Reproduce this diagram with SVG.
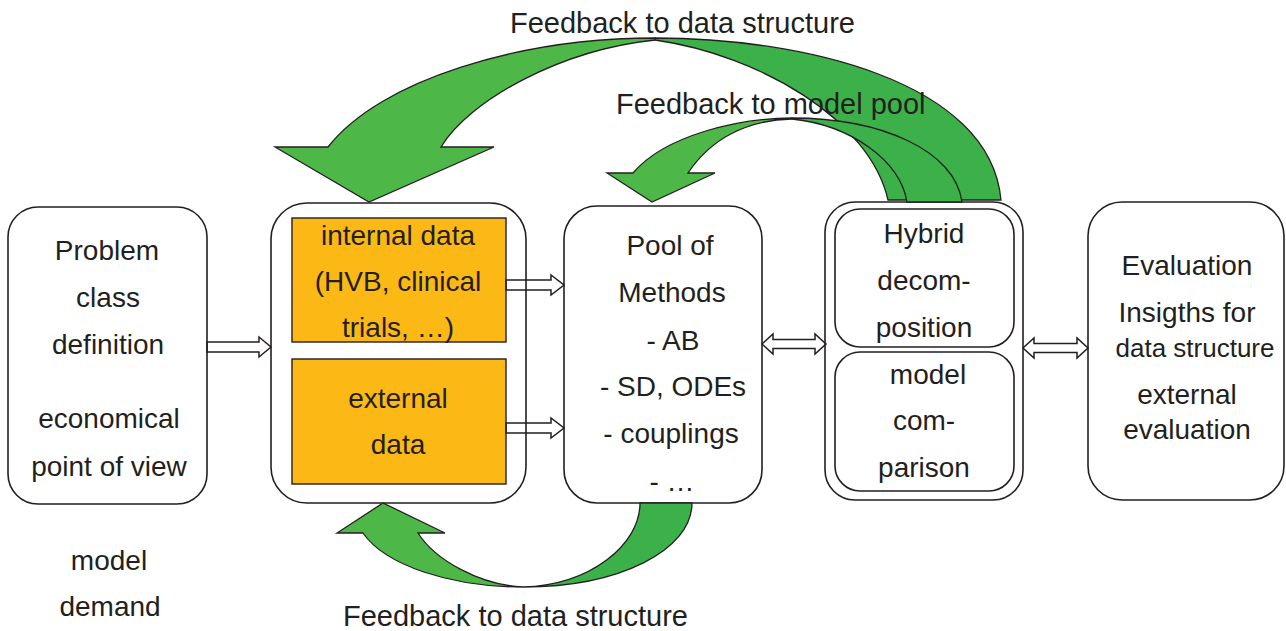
<svg xmlns="http://www.w3.org/2000/svg" width="1286" height="631" viewBox="0 0 1286 631">
  <style>
    .box { fill: #ffffff; stroke: #231f20; stroke-width: 1.6; }
    .data { fill: #fcb815; stroke: #231f20; stroke-width: 1.4; }
    .lbl { font-family: "Liberation Sans", Arial, sans-serif; font-size: 28px; fill: #231f20; text-anchor: middle; }
    .sm { font-size: 26px; }
    .fb { font-family: "Liberation Sans", Arial, sans-serif; font-size: 29px; fill: #231f20; }
    .blk { fill: none; stroke: #231f20; stroke-width: 1.5; stroke-linejoin: miter; }
    .front { fill: #4db848; stroke: #231f20; stroke-width: 1.3; stroke-linejoin: miter; }
    .back { fill: #3cb14a; stroke: #231f20; stroke-width: 1.3; stroke-linejoin: miter; }
  </style>

  <!-- Problem class definition -->
  <g id="problem">
    <rect class="box" x="8" y="207" width="199" height="297" rx="30" ry="30"/>
    <text class="lbl" x="107" y="260">Problem</text>
    <text class="lbl" x="108" y="307">class</text>
    <text class="lbl" x="108" y="354">definition</text>
    <text class="lbl" x="109" y="428">economical</text>
    <text class="lbl" x="109" y="476">point of view</text>
    <text class="lbl" x="109" y="570">model</text>
    <text class="lbl" x="110" y="616">demand</text>
  </g>

  <!-- Data sources -->
  <g id="data">
    <rect class="box" x="271" y="203" width="255" height="300" rx="36" ry="36"/>
    <rect class="data" x="292" y="218" width="214" height="124"/>
    <rect class="data" x="292" y="359" width="214" height="125"/>
    <text class="lbl" x="398" y="245">internal data</text>
    <text class="lbl" x="398" y="291">(HVB, clinical</text>
    <text class="lbl" x="398" y="337">trials, …)</text>
    <text class="lbl" x="398" y="408">external</text>
    <text class="lbl" x="398" y="454">data</text>
  </g>

  <!-- Pool of methods -->
  <g id="pool">
    <rect class="box" x="564" y="206" width="198" height="297" rx="33" ry="33"/>
    <text class="lbl" x="670" y="255">Pool of</text>
    <text class="lbl" x="672" y="302">Methods</text>
    <text class="lbl" x="673" y="350">- AB</text>
    <text class="lbl" x="673" y="396">- SD, ODEs</text>
    <text class="lbl" x="671" y="443">- couplings</text>
    <text class="lbl" x="672" y="491">- …</text>
  </g>

  <!-- Hybrid decomposition / model comparison -->
  <g id="hybrid">
    <rect class="box" x="825" y="202" width="198" height="298" rx="30" ry="30"/>
    <rect class="box" x="835" y="209" width="179" height="138" rx="25" ry="25"/>
    <rect class="box" x="835" y="352" width="179" height="139" rx="25" ry="25"/>
    <text class="lbl" x="924" y="243">Hybrid</text>
    <text class="lbl" x="924" y="290">decom-</text>
    <text class="lbl" x="924" y="337">position</text>
    <text class="lbl" x="928" y="384">model</text>
    <text class="lbl" x="924" y="430">com-</text>
    <text class="lbl" x="924" y="477">parison</text>
  </g>

  <!-- Evaluation -->
  <g id="evaluation">
    <rect class="box" x="1088" y="202" width="196" height="298" rx="34" ry="34"/>
    <text class="lbl" x="1187" y="275">Evaluation</text>
    <text class="lbl" x="1187" y="322">Insigths for</text>
    <text class="lbl sm" x="1195" y="357">data structure</text>
    <text class="lbl" x="1187" y="404">external</text>
    <text class="lbl" x="1187" y="439">evaluation</text>
  </g>

  <g id="connectors">
    <!-- block arrows between stages -->
    <path class="blk" d="M207,342 L259,342 L259,337 L271,347 L259,357 L259,352 L207,352 Z"/>
    <path class="blk" d="M506,280 L551,280 L551,275 L564,285 L551,295 L551,290 L506,290 Z"/>
    <path class="blk" d="M506,423 L551,423 L551,418 L564,428 L551,438 L551,433 L506,433 Z"/>
    <path class="blk" d="M762,344 L773,334 L773,339.5 L815,339.5 L815,334 L826,344 L815,354 L815,348.5 L773,348.5 L773,354 Z"/>
    <path class="blk" d="M1023,348 L1034,338 L1034,343.5 L1077,343.5 L1077,338 L1088,348 L1077,358 L1077,352.5 L1034,352.5 L1034,358 Z"/>

    <!-- feedback to data structure (top) -->
    <path class="back" d="M655,38 C800,38 990,80 1001,200 L888,200 C870,120 760,55 655,40 Z"/>
    <path class="front" d="M655,38 C520,38 380,80 328,147 L275,147 L369,202 L494,147 L441,147 C470,100 560,50 655,40 Z"/>

    <!-- feedback to model pool -->
    <path class="back" d="M792,118 C880,118 955,150 962,202 L907,202 C900,160 850,125 792,119 Z"/>
    <path class="front" d="M792,118 C740,118 665,135 633,173 L607,173 L652,202 L715,173 L688,173 C710,140 745,120 792,119 Z"/>

    <!-- feedback to data structure (bottom) -->
    <path class="back" d="M692,503 C692,550 620,587 523,587 C590,585 640,545 640,503 Z"/>
    <path class="front" d="M523,587 C450,587 385,565 363,533 L337,533 L383,503 L445,533 L418,533 C435,560 480,585 523,587 Z"/>

    <text class="fb" x="510" y="33">Feedback to data structure</text>
    <text class="fb" x="616" y="114">Feedback to model pool</text>
    <text class="fb" x="343" y="626">Feedback to data structure</text>
  </g>
</svg>
